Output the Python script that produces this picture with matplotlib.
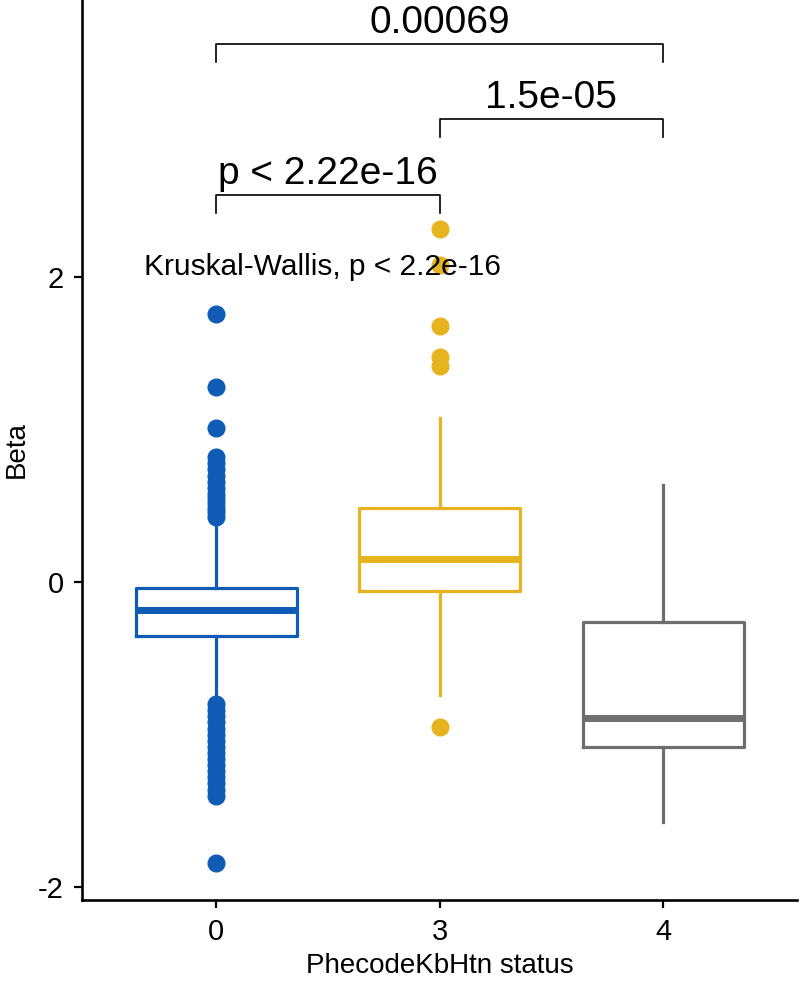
import matplotlib
matplotlib.use("Agg")
from matplotlib import pyplot as plt

plt.rcParams['font.family'] = ['Liberation Sans', 'DejaVu Sans']
plt.rcParams['axes.unicode_minus'] = False

# data
groups = ["0", "3", "4"]
colors = ["#0F5BB5", "#E6B41E", "#6E6E6E"]
q1 = [-0.35, -0.06, -1.08]
medians = [-0.18, 0.15, -0.89]
q3 = [-0.04, 0.49, -0.26]
whislo = [-0.78, -0.74, -1.57]
whishi = [0.41, 1.08, 0.64]
fliers_0 = [1.76, 1.28, 1.01, 0.82, 0.78, 0.74, 0.70, 0.66, 0.62, 0.58, 0.55,
            0.52, 0.49, 0.46, 0.43,
            -0.80, -0.84, -0.88, -0.92, -0.96, -1.00, -1.04, -1.08, -1.12,
            -1.16, -1.20, -1.24, -1.28, -1.32, -1.36, -1.40, -1.84]
fliers_3 = [2.32, 2.08, 1.68, 1.48, 1.42, -0.95]
fliers_4 = []
fliers = [fliers_0, fliers_3, fliers_4]

# pairwise comparisons: (group a, group b, bracket y, p label)
pairs = [(1, 2, 2.54, "p < 2.22e-16"),
         (2, 3, 3.04, "1.5e-05"),
         (1, 3, 3.53, "0.00069")]
kw_label = "Kruskal-Wallis, p < 2.2e-16"

fig = plt.figure(figsize=(8, 9.83), dpi=100)
ax = fig.add_axes([0.1025, 0.0844, 0.894, 0.9156])

for i in range(len(groups)):
    st = dict(med=medians[i], q1=q1[i], q3=q3[i], whislo=whislo[i],
              whishi=whishi[i], fliers=fliers[i])
    c = colors[i]
    ax.bxp([st], positions=[i + 1], widths=0.72, showcaps=False,
           boxprops=dict(color=c, linewidth=2.3),
           whiskerprops=dict(color=c, linewidth=2.3),
           medianprops=dict(color=c, linewidth=5, solid_capstyle='butt'),
           flierprops=dict(marker='o', markersize=12, markerfacecolor=c,
                           markeredgecolor=c, linestyle='none'))

tick_drop = 0.12
for a, b, y, lab in pairs:
    ax.plot([a, a, b, b], [y - tick_drop, y, y, y - tick_drop],
            color='black', linewidth=1.2)
    ax.text((a + b) / 2, y + 0.14, lab, ha='center', va='center', fontsize=28)

ax.text(0.678, 2.07, kw_label, ha='left', va='center', fontsize=21.5)

ax.set_xlim(0.4, 3.6)
ax.set_ylim(-2.085, 3.82)
ax.set_xticks([1, 2, 3])
ax.set_xticklabels(groups)
ax.set_yticks([-2, 0, 2])
ax.tick_params(labelsize=21, length=6, width=1.6, color='black', pad=7)
for s in ['top', 'right']:
    ax.spines[s].set_visible(False)
for s in ['left', 'bottom']:
    ax.spines[s].set_linewidth(1.9)
ax.set_xlabel("PhecodeKbHtn status", fontsize=20, labelpad=5)
ax.set_ylabel("Beta", fontsize=20, labelpad=6)

plt.savefig("out.png")
